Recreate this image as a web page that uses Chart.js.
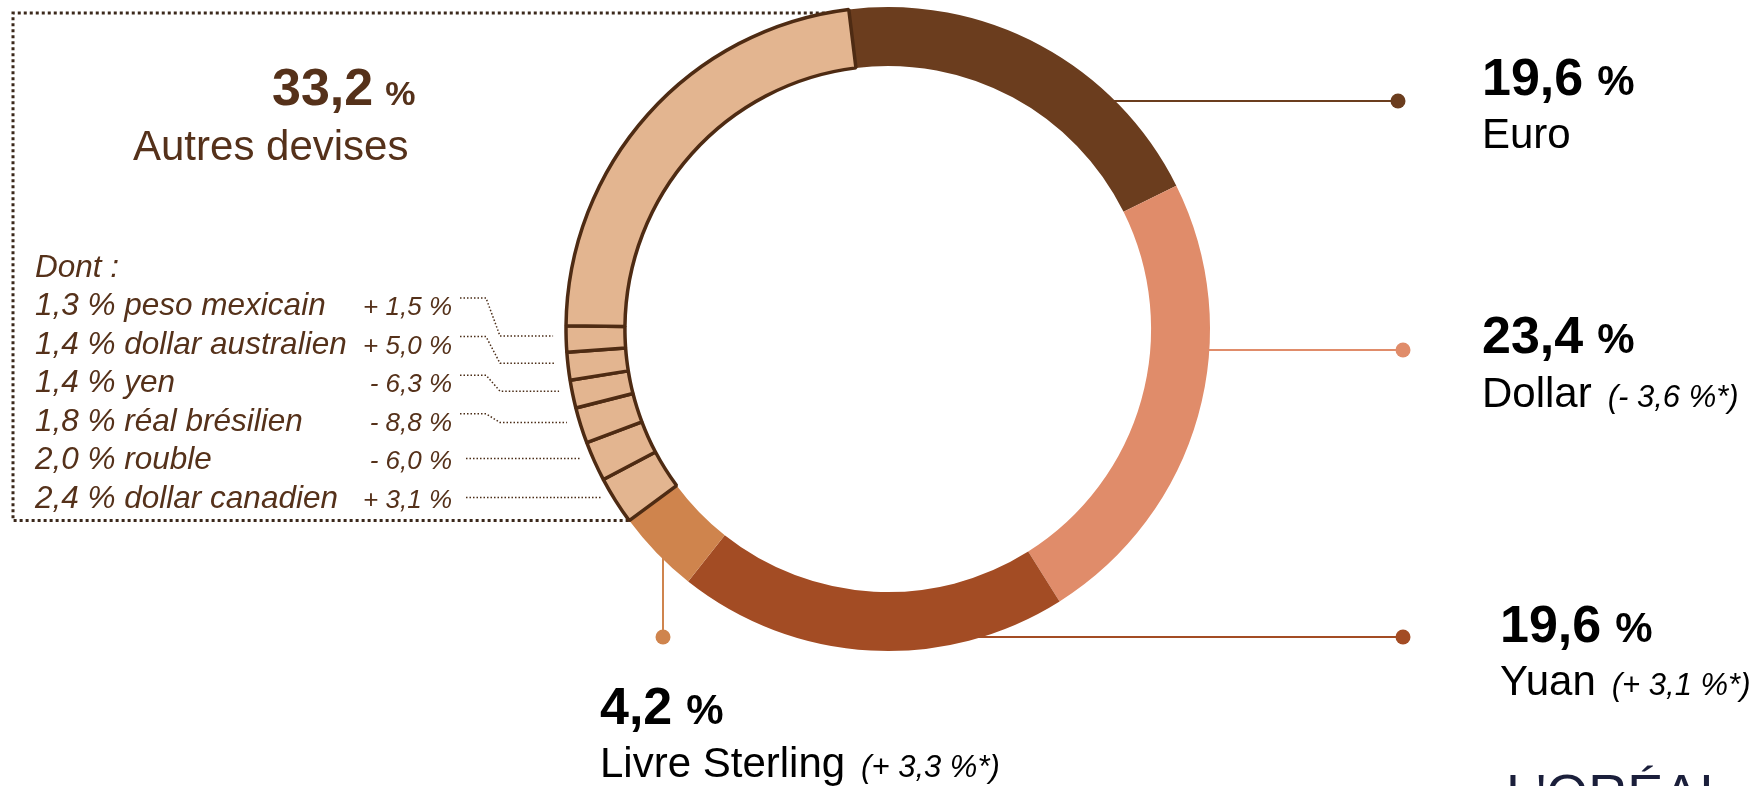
<!DOCTYPE html>
<html>
<head>
<meta charset="utf-8">
<script src="https://cdn.jsdelivr.net/npm/chart.js@4.4.0/dist/chart.umd.min.js"></script>
<style>
html, body { margin: 0; padding: 0; background: #fff; }
#wrap { position: relative; width: 1754px; height: 786px; overflow: hidden; }
canvas { display: block; }
</style>
</head>
<body>
<div id="wrap"><canvas id="c" width="1754" height="786"></canvas></div>
<script>
// main currencies, clockwise from the top
const mainNames = ['Euro', 'Dollar', 'Yuan', 'Livre Sterling'];
const mainShares = [19.6, 23.4, 19.6, 4.2];
const mainChanges = [null, '- 3,6 %*', '+ 3,1 %*', '+ 3,3 %*'];

// "Autres devises" and the detailed ones, clockwise after the pound
const autresName = 'Autres devises';
const autresShare = 33.2;
const otherNames = ['dollar canadien', 'rouble', 'réal brésilien', 'yen', 'dollar australien', 'peso mexicain'];
const otherShares = [2.4, 2.0, 1.8, 1.4, 1.4, 1.3];
const otherChanges = ['+ 3,1 %', '- 6,0 %', '- 8,8 %', '- 6,3 %', '+ 5,0 %', '+ 1,5 %'];

const mainColors = ['#6b3d1e', '#e08c6a', '#a34c24', '#cf844d'];
const autresColor = '#e3b590';
const autresBorder = '#4e2b13';
const brown = '#55311a';
const FONT = "'Liberation Sans', Arial, sans-serif";

const fmt = v => v.toFixed(1).replace('.', ',');

// ring = main currencies + detailed others + rest of the others
const otherRest = +(autresShare - otherShares.reduce((a, b) => a + b, 0)).toFixed(1);
const ringValues = [...mainShares, ...otherShares, otherRest];
const ringLabels = [...mainNames, ...otherNames, autresName];
const ringColors = [...mainColors, ...otherShares.map(() => autresColor), autresColor];
const ringBorderW = ringValues.map((v, i) => i < mainShares.length ? 0 : 3.5);

// label layout (right side + pound)
const rightLayout = [
  { lineY: 101, dotX: 1398, textX: 1482, numY: 95, nameY: 148 },
  { lineY: 350, dotX: 1403, textX: 1482, numY: 353, nameY: 407 },
  { lineY: 637, dotX: 1403, textX: 1500, numY: 642, nameY: 695 }
];
const livreLayout = { lineX: 663, dotY: 637, textX: 600, numY: 724, nameY: 777 };

function drawShare(ctx, x, y, value, color, numSize, pctSize, gap) {
  ctx.fillStyle = color;
  ctx.font = `bold ${numSize}px ${FONT}`;
  const s = fmt(value);
  ctx.fillText(s, x, y);
  const w = ctx.measureText(s).width;
  ctx.font = `bold ${pctSize}px ${FONT}`;
  ctx.fillText('%', x + w + gap, y);
}

function drawName(ctx, x, y, name, change) {
  ctx.fillStyle = '#000';
  ctx.font = `42px ${FONT}`;
  ctx.fillText(name, x, y);
  if (change) {
    const w = ctx.measureText(name).width;
    ctx.font = `italic 31px ${FONT}`;
    ctx.fillText(`(${change})`, x + w + 16, y);
  }
}

const labelsPlugin = {
  id: 'labels',
  beforeDatasetsDraw(chart) {
    const ctx = chart.ctx;
    const arcs = chart.getDatasetMeta(0).data;
    const cx = arcs[0].x, cy = arcs[0].y, R = arcs[0].outerRadius;
    const onRing = (a, r) => ({ x: cx + r * Math.cos(a), y: cy + r * Math.sin(a) });
    ctx.save();

    // connectors for the main currencies
    ctx.lineWidth = 2;
    rightLayout.forEach((L, i) => {
      const x0 = cx + Math.sqrt(R * R - (L.lineY - cy) ** 2) - 8;
      ctx.strokeStyle = mainColors[i];
      ctx.beginPath(); ctx.moveTo(x0, L.lineY); ctx.lineTo(L.dotX, L.lineY); ctx.stroke();
      ctx.fillStyle = mainColors[i];
      ctx.beginPath(); ctx.arc(L.dotX, L.lineY, 7.5, 0, Math.PI * 2); ctx.fill();
    });
    const y0 = cy + Math.sqrt(R * R - (livreLayout.lineX - cx) ** 2) - 8;
    ctx.strokeStyle = mainColors[3];
    ctx.beginPath(); ctx.moveTo(livreLayout.lineX, y0); ctx.lineTo(livreLayout.lineX, livreLayout.dotY); ctx.stroke();
    ctx.fillStyle = mainColors[3];
    ctx.beginPath(); ctx.arc(livreLayout.lineX, livreLayout.dotY, 7.5, 0, Math.PI * 2); ctx.fill();

    // dotted box around the "autres" block
    const first = mainShares.length;
    const top = onRing(arcs[0].startAngle, R);
    const bot = onRing(arcs[first].startAngle, R);
    ctx.strokeStyle = '#3b281b';
    ctx.lineWidth = 3;
    ctx.setLineDash([3, 3]);
    ctx.beginPath();
    ctx.moveTo(top.x, 13); ctx.lineTo(13, 13); ctx.lineTo(13, bot.y); ctx.lineTo(bot.x, bot.y);
    ctx.stroke();

    // leader lines for the detailed currencies
    ctx.strokeStyle = '#4a2c17';
    ctx.lineWidth = 1.5;
    ctx.setLineDash([1.5, 2]);
    const listBase = 315, listStep = 38.6;
    otherNames.forEach((n, k) => {
      const row = otherNames.length - 1 - k;
      const a = arcs[first + k];
      const mid = (a.startAngle + a.endAngle) / 2;
      const endY = cy + R * Math.sin(mid) - 3;
      const endX = cx - Math.sqrt(R * R - (endY - cy) ** 2) - 13;
      const startY = listBase + row * listStep - 17;
      const sx = 460;
      ctx.beginPath();
      if (Math.abs(endY - startY) < 8.5) {
        ctx.moveTo(sx + 6, endY); ctx.lineTo(endX, endY);
      } else {
        ctx.moveTo(sx, startY); ctx.lineTo(sx + 26, startY);
        ctx.lineTo(sx + 40, endY); ctx.lineTo(endX, endY);
      }
      ctx.stroke();
    });
    ctx.setLineDash([]);

    // texts
    ctx.textBaseline = 'alphabetic';
    ctx.textAlign = 'left';
    rightLayout.forEach((L, i) => {
      drawShare(ctx, L.textX, L.numY, mainShares[i], '#000', 52, 42, 14);
      drawName(ctx, L.textX, L.nameY, mainNames[i], mainChanges[i]);
    });
    drawShare(ctx, livreLayout.textX, livreLayout.numY, mainShares[3], '#000', 52, 42, 14);
    drawName(ctx, livreLayout.textX, livreLayout.nameY, mainNames[3], mainChanges[3]);

    drawShare(ctx, 272, 105, autresShare, brown, 52, 34, 12);
    ctx.fillStyle = brown;
    ctx.font = `42px ${FONT}`;
    ctx.fillText(autresName, 133, 160);

    ctx.font = `italic 31.5px ${FONT}`;
    ctx.fillText('Dont :', 35, 277);
    otherNames.forEach((n, k) => {
      const row = otherNames.length - 1 - k;
      const y = listBase + row * listStep;
      ctx.textAlign = 'left';
      ctx.font = `italic 31.5px ${FONT}`;
      ctx.fillText(`${fmt(otherShares[k])} % ${n}`, 35, y);
      ctx.textAlign = 'right';
      ctx.font = `italic 26px ${FONT}`;
      ctx.fillText(otherChanges[k], 452, y);
    });

    // logo, cut by the bottom edge
    ctx.textAlign = 'left';
    ctx.fillStyle = '#1b1f3b';
    ctx.font = `54px ${FONT}`;
    ctx.fillText("L'ORÉAL", 1506, 812);
    ctx.restore();
  }
};

new Chart(document.getElementById('c'), {
  type: 'doughnut',
  data: {
    labels: ringLabels,
    datasets: [{
      data: ringValues,
      backgroundColor: ringColors,
      borderColor: autresBorder,
      borderWidth: ringBorderW,
      hoverOffset: 0
    }]
  },
  options: {
    responsive: false,
    animation: false,
    events: [],
    rotation: -7,
    cutout: '81.7%',
    radius: 322,
    layout: { padding: { left: 22, right: 0, top: 0, bottom: 128 } },
    plugins: { legend: { display: false }, tooltip: { enabled: false } }
  },
  plugins: [labelsPlugin]
});
</script>
</body>
</html>
